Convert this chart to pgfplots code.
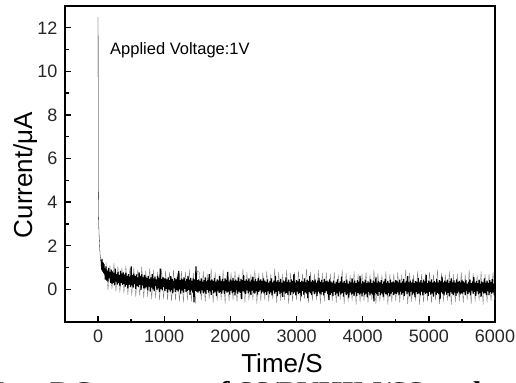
\documentclass[border=0pt]{standalone}
\usepackage{fontspec}
\setmainfont{Liberation Sans}
\newfontfamily\capfont{Liberation Serif}
\usepackage{pgfplots}
\pgfplotsset{compat=1.18}
\begin{document}
\begin{tikzpicture}
\useasboundingbox (-65bp,-61bp) rectangle (451bp,322bp);
\begin{axis}[
  at={(0,0)}, anchor=south west,
  scale only axis, width=430bp, height=316bp,
  xmin=-500, xmax=6000, ymin=-1.5, ymax=13,
  xtick={0,1000,...,6000}, ytick={0,2,...,12},
  minor x tick num=1, minor y tick num=1,
  tick align=inside, xtick pos=left, ytick pos=left,
  major tick length=6bp, minor tick length=3.5bp,
  axis line style={line width=1.4bp},
  every tick/.style={line width=1.4bp, black},
  /pgf/number format/assume math mode=true,
  /pgf/number format/1000 sep={},
  ticklabel style={font=\fontsize{18bp}{20bp}\selectfont, text=black!85},
  xticklabel style={yshift=-4bp},
  yticklabel style={xshift=-4bp},
]
% light outer fringe of the noise band
\addplot[black!50, line width=0.35bp] coordinates {
(120,1.25) (150,-0.05) (180,1.1) (210,0.0) (240,1.2) (270,-0.1) (300,1.05) (330,-0.15) (360,1.0) (390,-0.2)
(420,1.1) (450,-0.25) (480,0.95) (510,-0.3) (540,1.0) (570,-0.35) (600,0.9) (630,-0.3) (660,1.05) (690,-0.4)
(720,0.85) (750,-0.35) (780,0.95) (810,-0.45) (840,0.9) (870,-0.4) (900,0.8) (930,-0.5) (960,0.95) (990,-0.45)
(1020,0.85) (1050,-0.5) (1080,0.8) (1110,-0.55) (1140,0.9) (1170,-0.5) (1200,0.75) (1230,-0.55) (1260,0.85) (1290,-0.6)
(1320,0.8) (1350,-0.5) (1380,0.9) (1410,-0.55) (1440,0.75) (1470,-0.65) (1500,0.85)
(1530,0.78) (1560,-0.5) (1590,0.85) (1620,-0.58) (1650,0.72) (1680,-0.45) (1710,0.95) (1740,-0.62) (1770,0.8) (1800,-0.52) (1830,0.7) (1860,-0.48) (1890,0.88) (1920,-0.66) (1950,0.75) (1980,-0.55)
(2010,0.78) (2040,-0.5) (2070,0.85) (2100,-0.58) (2130,0.72) (2160,-0.45) (2190,0.95) (2220,-0.62) (2250,0.8) (2280,-0.52) (2310,0.7) (2340,-0.48) (2370,0.88) (2400,-0.66) (2430,0.75) (2460,-0.55)
(2490,0.78) (2520,-0.5) (2550,0.85) (2580,-0.58) (2610,0.72) (2640,-0.45) (2670,0.95) (2700,-0.62) (2730,0.8) (2760,-0.52) (2790,0.7) (2820,-0.48) (2850,0.88) (2880,-0.66) (2910,0.75) (2940,-0.55)
(2970,0.78) (3000,-0.5) (3030,0.85) (3060,-0.58) (3090,0.72) (3120,-0.45) (3150,0.95) (3180,-0.62) (3210,0.8) (3240,-0.52) (3270,0.7) (3300,-0.48) (3330,0.88) (3360,-0.66) (3390,0.75) (3420,-0.55) (3450,0.78) (3480,-0.5)
(3510,0.72) (3540,-0.55) (3570,0.8) (3600,-0.62) (3630,0.68) (3660,-0.5) (3690,0.9) (3720,-0.68) (3750,0.75) (3780,-0.56) (3810,0.66) (3840,-0.52) (3870,0.82) (3900,-0.7) (3930,0.7) (3960,-0.6)
(3990,0.72) (4020,-0.55) (4050,0.8) (4080,-0.62) (4110,0.68) (4140,-0.5) (4170,0.9) (4200,-0.68) (4230,0.75) (4260,-0.56) (4290,0.66) (4320,-0.52) (4350,0.82) (4380,-0.7) (4410,0.7) (4440,-0.6)
(4470,0.72) (4500,-0.55) (4530,0.8) (4560,-0.62) (4590,0.68) (4620,-0.5) (4650,0.9) (4680,-0.68) (4710,0.75) (4740,-0.56) (4770,0.66) (4800,-0.52) (4830,0.82) (4860,-0.7) (4890,0.7) (4920,-0.6)
(4950,0.72) (4980,-0.55) (5010,0.8) (5040,-0.62) (5070,0.68) (5100,-0.5) (5130,0.9) (5160,-0.68) (5190,0.75) (5220,-0.56) (5250,0.66) (5280,-0.52) (5310,0.82) (5340,-0.7) (5370,0.7) (5400,-0.6)
(5430,0.72) (5460,-0.55) (5490,0.8) (5520,-0.62) (5550,0.68) (5580,-0.5) (5610,0.9) (5640,-0.68) (5670,0.75) (5700,-0.56) (5730,0.66) (5760,-0.52) (5790,0.82) (5820,-0.7) (5850,0.7) (5880,-0.6) (5910,0.72) (5940,-0.55) (5970,0.8) (6000,-0.5)
};
\addplot[black, line width=0.3bp] coordinates {
(0,12.5) (3,5.0) (6,3.6) (10,3.0) (15,2.5) (20,2.2) (25,1.9) (30,1.6) (35,1.45) (40,1.3)
};
\addplot[black, line width=1.2bp, line join=bevel] coordinates {
(40,1.3) (50,1.3) (55,0.9) (60,1.4) (65,0.85) (70,1.25) (75,0.8) (80,1.2) (85,0.75) (90,1.15) (95,0.7)
(100,0.95) (110,0.45) (120,1.05) (130,0.40) (140,0.85) (150,0.35) (160,0.98) (170,0.50) (180,0.80) (190,0.30) (200,0.90)
(210,0.25) (220,0.82) (230,0.30) (240,0.75) (250,0.18) (260,0.95) (270,0.35) (280,0.70) (290,0.22) (300,0.80)
(310,0.28) (320,0.66) (330,0.15) (340,0.85) (350,0.30) (360,0.72) (370,0.20) (380,0.78) (390,0.25) (400,0.68)
(410,0.12) (420,0.75) (430,0.20) (440,0.62) (450,0.05) (460,0.70) (470,0.22) (480,0.58) (490,0.10) (500,1.05)
(510,0.18) (520,0.65) (530,0.08) (540,0.72) (550,0.25) (560,0.60) (570,0.02) (580,0.68) (590,0.15) (600,0.55)
(610,0.10) (620,0.78) (630,0.20) (640,0.62) (650,-0.02) (660,0.70) (670,0.18) (680,0.55) (690,0.05) (700,0.66)
(710,0.05) (720,0.58) (730,0.10) (740,0.52) (750,-0.05) (760,0.62) (770,0.12) (780,0.48) (790,-0.10) (800,0.55)
(810,0.08) (820,0.70) (830,0.00) (840,0.50) (850,-0.08) (860,0.58) (870,0.15) (880,0.45) (890,-0.02) (900,0.62)
(910,0.05) (920,0.52) (930,-0.12) (940,0.95) (950,0.02) (960,0.48) (970,-0.05) (980,0.56) (990,0.10) (1000,0.50)
(1010,-0.08) (1020,0.50) (1030,0.02) (1040,0.45) (1050,-0.15) (1060,0.55) (1070,0.00) (1080,0.42) (1090,-0.10) (1100,0.60)
(1110,-0.05) (1120,0.48) (1130,-0.18) (1140,0.40) (1150,0.05) (1160,0.52) (1170,-0.12) (1180,0.45) (1190,-0.02) (1200,0.58)
(1210,-0.10) (1220,0.85) (1230,0.00) (1240,0.42) (1250,-0.20) (1260,0.50) (1270,-0.05) (1280,0.46) (1290,-0.15) (1300,0.55)
(1310,0.02) (1320,0.40) (1330,-0.12) (1340,0.48) (1350,-0.08) (1360,0.62) (1370,-0.02) (1380,0.44) (1390,-0.25) (1400,0.52)
(1410,-0.05) (1420,0.40) (1430,-0.15) (1440,0.50) (1450,-0.60) (1460,0.45) (1470,-0.08) (1480,1.05) (1490,-0.10) (1500,0.42)
(1510,-0.15) (1520,0.45) (1530,-0.08) (1540,0.38) (1550,-0.20) (1560,0.50) (1570,-0.05) (1580,0.35) (1590,-0.18) (1600,0.42)
(1610,-0.10) (1620,0.55) (1630,-0.22) (1640,0.36) (1650,-0.02) (1660,0.44) (1670,-0.15) (1680,0.70) (1690,-0.08) (1700,0.40)
(1710,-0.25) (1720,0.46) (1730,-0.05) (1740,0.38) (1750,-0.18) (1760,0.52) (1770,-0.10) (1780,0.34) (1790,-0.30) (1800,0.45)
(1810,-0.06) (1820,0.40) (1830,-0.16) (1840,0.60) (1850,-0.12) (1860,0.38) (1870,-0.20) (1880,0.48) (1890,-0.04) (1900,0.36)
(1910,-0.22) (1920,0.50) (1930,-0.08) (1940,0.42) (1950,-0.15) (1960,0.80) (1970,-0.10) (1980,0.35) (1990,-0.24) (2000,0.46)
(2010,-0.06) (2020,0.40) (2030,-0.18) (2040,0.52) (2050,-0.12) (2060,0.37) (2070,-0.28) (2080,0.44) (2090,-0.05) (2100,0.39)
(2110,-0.20) (2120,0.55) (2130,-0.10) (2140,0.36) (2150,-0.16) (2160,0.48) (2170,-0.45) (2180,0.42) (2190,-0.08) (2200,0.65)
(2210,-0.14) (2220,0.38) (2230,-0.22) (2240,0.46) (2250,-0.05) (2260,0.40) (2270,-0.18) (2280,0.50) (2290,-0.10) (2300,0.35)
(2310,-0.26) (2320,0.44) (2330,-0.06) (2340,0.58) (2350,-0.15) (2360,0.38) (2370,-0.20) (2380,0.47) (2390,-0.08) (2400,0.36)
(2410,-0.24) (2420,0.52) (2430,-0.12) (2440,0.40) (2450,-0.04) (2460,0.45) (2470,-0.18) (2480,0.38) (2490,-0.10) (2500,0.50)
(2510,-0.20) (2520,0.40) (2530,-0.12) (2540,0.34) (2550,-0.25) (2560,0.45) (2570,-0.08) (2580,0.30) (2590,-0.22) (2600,0.38)
(2610,-0.14) (2620,0.50) (2630,-0.28) (2640,0.32) (2650,-0.05) (2660,0.40) (2670,-0.20) (2680,0.62) (2690,-0.12) (2700,0.35)
(2710,-0.30) (2720,0.42) (2730,-0.08) (2740,0.33) (2750,-0.22) (2760,0.48) (2770,-0.15) (2780,0.30) (2790,-0.35) (2800,0.40)
(2810,-0.10) (2820,0.36) (2830,-0.20) (2840,0.55) (2850,-0.16) (2860,0.34) (2870,-0.25) (2880,0.44) (2890,-0.08) (2900,0.32)
(2910,-0.26) (2920,0.46) (2930,-0.12) (2940,0.38) (2950,-0.20) (2960,0.70) (2970,-0.14) (2980,0.30) (2990,-0.28) (3000,0.42)
(3010,-0.10) (3020,0.36) (3030,-0.22) (3040,0.48) (3050,-0.16) (3060,0.33) (3070,-0.32) (3080,0.40) (3090,-0.08) (3100,0.35)
(3110,-0.24) (3120,0.50) (3130,-0.14) (3140,0.32) (3150,-0.20) (3160,0.44) (3170,-0.40) (3180,0.38) (3190,-0.12) (3200,0.60)
(3210,-0.18) (3220,0.34) (3230,-0.26) (3240,0.42) (3250,-0.08) (3260,0.36) (3270,-0.22) (3280,0.46) (3290,-0.14) (3300,0.30)
(3310,-0.30) (3320,0.40) (3330,-0.10) (3340,0.52) (3350,-0.18) (3360,0.34) (3370,-0.24) (3380,0.43) (3390,-0.12) (3400,0.32)
(3410,-0.28) (3420,0.48) (3430,-0.16) (3440,0.36) (3450,-0.08) (3460,0.40) (3470,-0.22) (3480,0.34) (3490,-0.50) (3500,0.46)
(3510,-0.25) (3520,0.35) (3530,-0.16) (3540,0.30) (3550,-0.30) (3560,0.40) (3570,-0.12) (3580,0.26) (3590,-0.26) (3600,0.34)
(3610,-0.18) (3620,0.45) (3630,-0.32) (3640,0.28) (3650,-0.10) (3660,0.36) (3670,-0.24) (3680,0.58) (3690,-0.16) (3700,0.30)
(3710,-0.34) (3720,0.38) (3730,-0.12) (3740,0.28) (3750,-0.26) (3760,0.44) (3770,-0.20) (3780,0.26) (3790,-0.38) (3800,0.36)
(3810,-0.14) (3820,0.32) (3830,-0.24) (3840,0.50) (3850,-0.20) (3860,0.30) (3870,-0.30) (3880,0.40) (3890,-0.12) (3900,0.28)
(3910,-0.30) (3920,0.42) (3930,-0.16) (3940,0.34) (3950,-0.24) (3960,0.62) (3970,-0.18) (3980,0.26) (3990,-0.32) (4000,0.38)
(4010,-0.14) (4020,0.32) (4030,-0.26) (4040,0.44) (4050,-0.20) (4060,0.28) (4070,-0.36) (4080,0.36) (4090,-0.12) (4100,0.30)
(4110,-0.28) (4120,0.46) (4130,-0.18) (4140,0.28) (4150,-0.24) (4160,0.40) (4170,-0.55) (4180,0.34) (4190,-0.16) (4200,0.55)
(4210,-0.22) (4220,0.30) (4230,-0.30) (4240,0.38) (4250,-0.12) (4260,0.32) (4270,-0.26) (4280,0.42) (4290,-0.18) (4300,0.26)
(4310,-0.34) (4320,0.36) (4330,-0.14) (4340,0.48) (4350,-0.22) (4360,0.30) (4370,-0.28) (4380,0.39) (4390,-0.16) (4400,0.28)
(4410,-0.32) (4420,0.44) (4430,-0.20) (4440,0.32) (4450,-0.12) (4460,0.36) (4470,-0.26) (4480,0.30) (4490,-0.20) (4500,0.42)
(4510,-0.22) (4520,0.38) (4530,-0.14) (4540,0.32) (4550,-0.28) (4560,0.44) (4570,-0.10) (4580,0.28) (4590,-0.24) (4600,0.36)
(4610,-0.16) (4620,0.48) (4630,-0.30) (4640,0.30) (4650,-0.08) (4660,0.38) (4670,-0.22) (4680,0.60) (4690,-0.14) (4700,0.32)
(4710,-0.32) (4720,0.40) (4730,-0.10) (4740,0.30) (4750,-0.24) (4760,0.46) (4770,-0.18) (4780,0.28) (4790,-0.36) (4800,0.38)
(4810,-0.12) (4820,0.34) (4830,-0.22) (4840,0.52) (4850,-0.18) (4860,0.32) (4870,-0.28) (4880,0.42) (4890,-0.10) (4900,0.30)
(4910,-0.28) (4920,0.44) (4930,-0.14) (4940,0.36) (4950,-0.22) (4960,0.66) (4970,-0.16) (4980,0.28) (4990,-0.30) (5000,0.40)
(5010,-0.12) (5020,0.34) (5030,-0.24) (5040,0.46) (5050,-0.18) (5060,0.30) (5070,-0.34) (5080,0.38) (5090,-0.10) (5100,0.32)
(5110,-0.26) (5120,0.48) (5130,-0.16) (5140,0.30) (5150,-0.22) (5160,0.42) (5170,-0.45) (5180,0.36) (5190,-0.14) (5200,0.58)
(5210,-0.20) (5220,0.32) (5230,-0.28) (5240,0.40) (5250,-0.10) (5260,0.34) (5270,-0.24) (5280,0.44) (5290,-0.16) (5300,0.28)
(5310,-0.32) (5320,0.38) (5330,-0.12) (5340,0.50) (5350,-0.20) (5360,0.32) (5370,-0.26) (5380,0.41) (5390,-0.14) (5400,0.30)
(5410,-0.30) (5420,0.46) (5430,-0.18) (5440,0.34) (5450,-0.10) (5460,0.38) (5470,-0.24) (5480,0.32) (5490,-0.18) (5500,0.44)
(5510,-0.20) (5520,0.36) (5530,-0.12) (5540,0.30) (5550,-0.26) (5560,0.42) (5570,-0.08) (5580,0.26) (5590,-0.22) (5600,0.34)
(5610,-0.14) (5620,0.46) (5630,-0.28) (5640,0.28) (5650,-0.06) (5660,0.36) (5670,-0.20) (5680,0.56) (5690,-0.12) (5700,0.30)
(5710,-0.30) (5720,0.38) (5730,-0.08) (5740,0.28) (5750,-0.22) (5760,0.44) (5770,-0.16) (5780,0.26) (5790,-0.34) (5800,0.36)
(5810,-0.10) (5820,0.32) (5830,-0.20) (5840,0.50) (5850,-0.16) (5860,0.30) (5870,-0.26) (5880,0.40) (5890,-0.08) (5900,0.28)
(5910,-0.26) (5920,0.42) (5930,-0.12) (5940,0.34) (5950,-0.20) (5960,0.48) (5970,-0.14) (5980,0.26) (5990,-0.28) (6000,0.38)
};
\end{axis}
\node[anchor=base west, inner sep=0pt, font=\fontsize{16.5bp}{18bp}\selectfont] at (45bp,267bp) {Applied Voltage:1V};
\node[anchor=base, inner sep=0pt, rotate=90, font=\fontsize{26bp}{28bp}\selectfont] at (-33bp,147bp) {Current/μA};
\node[anchor=base, inner sep=0pt, font=\fontsize{26bp}{28bp}\selectfont] at (217bp,-50bp) {Time/S};
\clip (-65bp,-61bp) rectangle (451bp,322bp);
\node[anchor=base east, inner sep=0pt, font=\capfont\bfseries\fontsize{30bp}{32bp}\selectfont] at (-53bp,-80bp) {Figure 7.};
\node[anchor=base west, inner sep=0pt, font=\capfont\bfseries\fontsize{30bp}{32bp}\selectfont] at (-15bp,-80bp) {DC current of SS/PVHIM/SS under};
\end{tikzpicture}
\end{document}
